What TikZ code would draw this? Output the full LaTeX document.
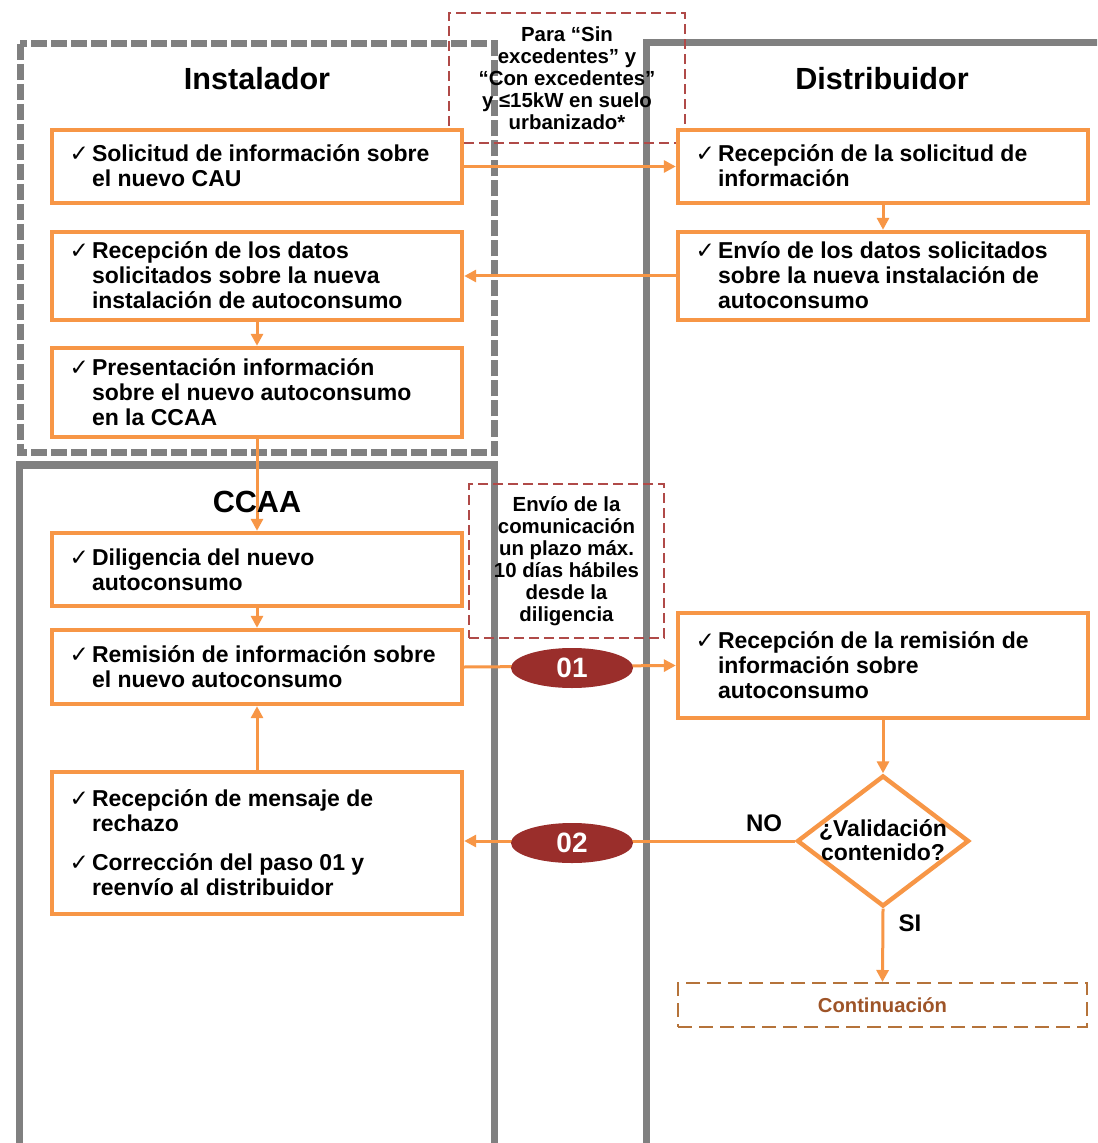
\documentclass[tikz,border=0pt]{standalone}
\usepackage{fontspec}
\setmainfont{Liberation Sans}
\newfontfamily\dejavu{DejaVu Sans}
\usetikzlibrary{shapes.geometric,arrows.meta}
\definecolor{boxorange}{HTML}{F79646}
\definecolor{lanegray}{HTML}{808080}
\definecolor{notered}{HTML}{B04A48}
\definecolor{badgered}{HTML}{9A2E2B}
\definecolor{contbrown}{HTML}{B5733A}
\definecolor{conttext}{HTML}{9E5428}
\newcommand\chk{\llap{{\dejavu\fontsize{11.5}{10}\selectfont ✓}\hspace{1.5pt}}}
\newcommand\stepcontent[1]{\makebox[205pt][l]{\hspace*{20pt}\raisebox{-1.5pt}[\height][\depth]{\begin{tabular}{@{}l@{}}#1\end{tabular}}}}
\begin{document}
\begin{tikzpicture}[x=0.5pt,y=-0.5pt,
  lane/.style={draw=lanegray,line width=3.5pt},
  lanedash/.style={lane,dash pattern=on 8pt off 2pt},
  title/.style={font=\bfseries\fontsize{15.3}{17}\selectfont,inner sep=0pt},
  stepbox/.style={draw=boxorange,line width=2.2pt,fill=white,rectangle,minimum width=205pt,inner xsep=0pt,inner ysep=2pt,font=\bfseries\fontsize{11.5}{12.5}\selectfont},
  note/.style={draw=notered,line width=0.8pt,dash pattern=on 5pt off 2.5pt,rectangle,align=center,font=\bfseries\fontsize{10.2}{11}\selectfont,inner sep=0pt},
  flow/.style={draw=boxorange,line width=1.5pt,-{Triangle[length=6pt,width=6pt]}},
  badge/.style={ellipse,fill=badgered,text=white,font=\bfseries\fontsize{14}{14}\selectfont,minimum width=61pt,minimum height=20pt,inner sep=0pt},
  lbl/.style={font=\bfseries\fontsize{12}{12}\selectfont,inner sep=0pt}
]
\useasboundingbox (0,0) rectangle (1097,1143);
\clip (0,0) rectangle (1097,1143);
\fill[white] (0,0) rectangle (1097,1143);

% lanes
\draw[lanedash] (20,44) rectangle (494.5,453);
\draw[lane] (19,1170) |- (494,465) -- (494,1170);
\draw[lane] (646,1170) |- (1120,43);

% notes
\node[note,minimum width=118pt,minimum height=65pt] (note1) at (567,78)
  {Para “Sin\\excedentes” y\\“Con excedentes”\\y ≤15kW en suelo\\urbanizado*};
\node[note,minimum width=97.5pt,minimum height=77pt] (note2) at (566.5,561)
  {Envío de la\\comunicación\\un plazo máx.\\10 días hábiles\\desde la\\diligencia};

% boxes
\node[stepbox,minimum height=36.5pt] (b1) at (257,166.5) {\stepcontent{\chk Solicitud de información sobre\\el nuevo CAU}};
\node[stepbox,minimum height=44pt] (b2) at (257,276) {\stepcontent{\chk Recepción de los datos\\solicitados sobre la nueva\\instalación de autoconsumo}};
\node[stepbox,minimum height=44.5pt] (b3) at (257,392.5) {\stepcontent{\chk Presentación información\\sobre el nuevo autoconsumo\\en la CCAA}};
\node[stepbox,minimum height=36.5pt] (b4) at (257,569.5) {\stepcontent{\chk Diligencia del nuevo\\autoconsumo}};
\node[stepbox,minimum height=37pt] (b5) at (257,667) {\stepcontent{\chk Remisión de información sobre\\el nuevo autoconsumo}};
\node[stepbox,minimum height=71pt] (b6) at (257,843) {\stepcontent{\chk Recepción de mensaje de\\rechazo\\[7pt]\chk Corrección del paso 01 y\\reenvío al distribuidor}};
\node[stepbox,minimum height=36.5pt] (b7) at (883,166.5) {\stepcontent{\chk Recepción de la solicitud de\\información}};
\node[stepbox,minimum height=44pt] (b8) at (883,276) {\stepcontent{\chk Envío de los datos solicitados\\sobre la nueva instalación de\\autoconsumo}};
\node[stepbox,minimum height=52.5pt] (b9) at (883,665.5) {\stepcontent{\chk Recepción de la remisión de\\información sobre\\autoconsumo}};

\node[diamond,draw=boxorange,line width=2.2pt,fill=white,minimum width=86pt,minimum height=65.5pt,inner sep=0pt] (dia) at (883,841) {};
\node[align=center,font=\bfseries\fontsize{11.5}{12}\selectfont,inner sep=0pt] (diatext) at (883,840) {¿Validación\\contenido?};

\node[draw=contbrown,line width=1pt,dash pattern=on 7pt off 3.5pt,minimum width=204.5pt,minimum height=22pt,text=conttext,font=\bfseries\fontsize{10.1}{10}\selectfont] (cont) at (882.5,1005) {Continuación};

% connectors
\draw[flow] (b1.east) -- (b7.west);
\draw[flow] (b7.south) -- (b8.north);
\draw[flow] (b8.west) -- (b2.east);
\draw[flow] (b2.south) -- (b3.north);
\draw[flow] (b3.south) -- (b4.north);
\draw[flow] (b4.south) -- (b5.north);
\draw[flow] (b5.east) -- (b9.west);
\draw[flow] (b9.south) -- (dia.north);
\draw[flow] (dia.west) -- (b6.east |- dia.west);
\draw[flow] (dia.south) -- (cont.north);
\draw[flow] (b6.north) -- (b5.south);

% badges
\node[badge] (bd1) at (572,668) {01};
\node[badge] (bd2) at (572,843) {02};

% titles and labels
\node[title] (tinst) at (257,79) {Instalador};
\node[title] (tdist) at (882,79) {Distribuidor};
\node[title] (tccaa) at (257,502) {CCAA};
\node[lbl] (lno) at (764,823) {NO};
\node[lbl] (lsi) at (910,923) {SI};
\end{tikzpicture}
\end{document}
